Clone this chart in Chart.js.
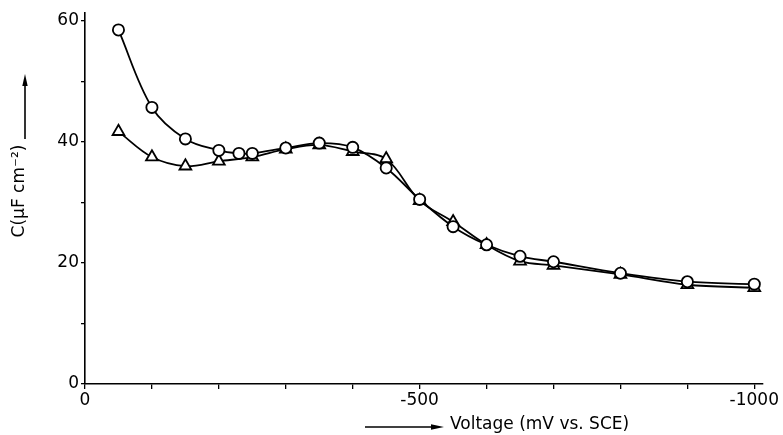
<!DOCTYPE html>
<html><head><meta charset="utf-8">
<script src="https://cdn.jsdelivr.net/npm/chart.js@4/dist/chart.umd.min.js"></script>
<style>html,body{margin:0;padding:0;background:#fff}#wrap{width:783px;height:435px}</style>
</head><body><div id="wrap"><canvas id="c" width="783" height="435"></canvas></div>
<script>
// Circle series (mV vs SCE, µF cm^-2)
const voltageCircles = [-50, -100, -150, -200, -230, -250, -300, -350, -400, -450, -500, -550, -600, -650, -700, -800, -900, -1000];
const capCircles     = [58.5, 45.7, 40.5, 38.6, 38.1, 38.1, 39.0, 39.8, 39.1, 35.7, 30.5, 26.0, 23.0, 21.1, 20.2, 18.3, 16.9, 16.5];
// Triangle series
const voltageTriangles = [-50, -100, -150, -200, -250, -300, -350, -400, -450, -500, -550, -600, -650, -700, -800, -900, -1000];
const capTriangles     = [41.7, 37.5, 36.0, 36.8, 37.5, 38.8, 39.5, 38.4, 37.2, 30.3, 26.8, 23.0, 20.3, 19.6, 18.1, 16.4, 15.9];
// Axis ticks and labels
const xTickValues = [0, -100, -200, -300, -400, -500, -600, -700, -800, -900, -1000];
const xLabeled = [0, -500, -1000];
const yTickValues = [0, 10, 20, 30, 40, 50, 60];
const yLabeled = [0, 20, 40, 60];
const xTitle = 'Voltage (mV vs. SCE)';
const yTitle = 'C(\u00B5F cm\u207B\u00B2)';

const toPts = (xs, ys) => xs.map((x, i) => ({x: x, y: ys[i]}));
const FONT = '"DejaVu Sans", sans-serif';

const titlePlugin = {
  id: 'titles',
  afterDraw(chart) {
    const ctx = chart.ctx;
    ctx.save();
    ctx.fillStyle = '#000';
    ctx.strokeStyle = '#000';
    ctx.lineWidth = 1.6;
    // y title (rotated) with arrow
    ctx.save();
    ctx.translate(20, 191);
    ctx.rotate(-Math.PI / 2);
    ctx.font = '17px ' + FONT;
    ctx.textAlign = 'center';
    ctx.textBaseline = 'middle';
    ctx.fillText(yTitle, 0, 0);
    ctx.restore();
    ctx.beginPath(); ctx.moveTo(25, 139); ctx.lineTo(25, 84); ctx.stroke();
    ctx.beginPath(); ctx.moveTo(25, 74); ctx.lineTo(22.3, 86); ctx.lineTo(27.7, 86); ctx.closePath(); ctx.fill();
    // x title with arrow
    ctx.font = '17px ' + FONT;
    ctx.textAlign = 'left';
    ctx.textBaseline = 'middle';
    ctx.fillText(xTitle, 450, 425);
    ctx.beginPath(); ctx.moveTo(365, 427); ctx.lineTo(434, 427); ctx.stroke();
    ctx.beginPath(); ctx.moveTo(444, 427); ctx.lineTo(431, 424.2); ctx.lineTo(431, 429.8); ctx.closePath(); ctx.fill();
    ctx.restore();
  }
};

new Chart(document.getElementById('c'), {
  type: 'line',
  data: {
    datasets: [
      {
        data: toPts(voltageCircles, capCircles),
        borderColor: '#000', borderWidth: 1.8,
        pointStyle: 'circle', pointRadius: 5.6, pointBorderWidth: 1.8,
        pointBackgroundColor: '#fff', pointBorderColor: '#000',
        tension: 0.35, fill: false
      },
      {
        data: toPts(voltageTriangles, capTriangles),
        borderColor: '#000', borderWidth: 1.8,
        pointStyle: 'triangle', pointRadius: 6.8, pointBorderWidth: 1.8,
        pointBackgroundColor: '#fff', pointBorderColor: '#000',
        tension: 0.35, fill: false
      }
    ]
  },
  options: {
    responsive: false, animation: false, devicePixelRatio: 1,
    layout: {padding: {top: 13, right: 20, left: 0, bottom: 0}},
    plugins: {legend: {display: false}, tooltip: {enabled: false}},
    scales: {
      x: {
        type: 'linear', min: -1013, max: 0, reverse: true, position: 'bottom',
        afterBuildTicks: s => { s.ticks = xTickValues.map(v => ({value: v})); },
        afterFit: s => { s.height = 51; },
        grid: {drawOnChartArea: false, drawTicks: true, tickLength: 5, color: '#000', lineWidth: 1.3},
        border: {display: true, color: '#000', width: 1.6},
        ticks: {
          autoSkip: false, maxRotation: 0, padding: 1, color: '#000',
          font: {family: FONT, size: 17},
          callback: v => xLabeled.includes(v) ? String(v) : ''
        }
      },
      y: {
        type: 'linear', min: 0, max: 61.3, position: 'left',
        afterBuildTicks: s => { s.ticks = yTickValues.map(v => ({value: v})); },
        afterFit: s => { s.width = 85; },
        grid: {drawOnChartArea: false, drawTicks: true, tickLength: 4, color: '#000', lineWidth: 1.3},
        border: {display: true, color: '#000', width: 1.6},
        ticks: {
          autoSkip: false, padding: 2, color: '#000',
          font: {family: FONT, size: 17},
          callback: v => yLabeled.includes(v) ? String(v) : ''
        }
      }
    }
  },
  plugins: [titlePlugin]
});
</script>
</body></html>
